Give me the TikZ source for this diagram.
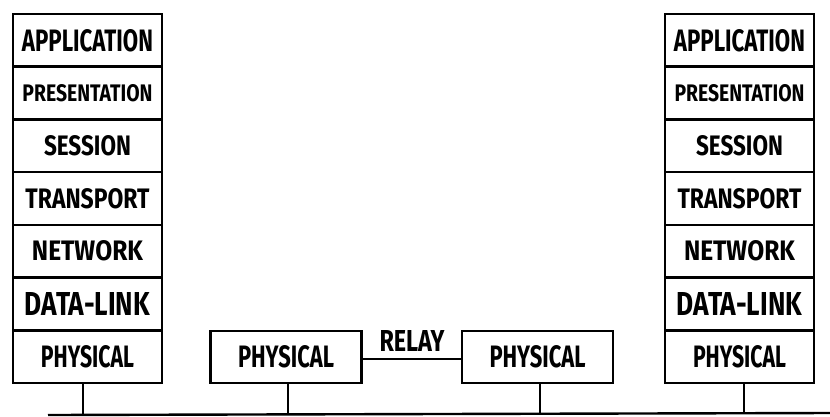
\documentclass[tikz,border=0pt]{standalone}
\usepackage{fontspec}
\setmainfont{Fira Sans}
\usepackage{graphicx}
\newcommand{\hw}[3]{\resizebox{#1pt}{#2pt}{\bfseries #3}}
\begin{document}
\begin{tikzpicture}[x=1pt,y=-1pt,
  layer/.style={draw, line width=2.6pt, minimum width=149pt, minimum height=52.7pt,
    inner sep=0pt, outer sep=0pt},
  relaybox/.style={draw, line width=2.6pt, minimum width=151pt, minimum height=52pt,
    inner sep=0pt, outer sep=0pt},
  wire/.style={line width=1.8pt},
  bus/.style={line width=2.4pt}]
\useasboundingbox (0,0) rectangle (830,416);
% left stack
\node[layer] (la) at (87.5,40.35)  {\hw{131}{22}{APPLICATION}};
\node[layer] (lp) at (87.5,93.05)  {\hw{130}{17}{PRESENTATION}};
\node[layer] (ls) at (87.5,145.75) {\hw{87}{20}{SESSION}};
\node[layer] (lt) at (87.5,198.45) {\hw{124}{20}{TRANSPORT}};
\node[layer] (ln) at (87.5,251.15) {\hw{111}{20}{NETWORK}};
\node[layer] (ld) at (87.5,303.85) {\hw{125}{23}{DATA-LINK}};
\node[layer] (lph) at (87.5,356.55) {\hw{93}{22}{PHYSICAL}};
% right stack
\node[layer] (ra) at (739.5,40.35)  {\hw{131}{22}{APPLICATION}};
\node[layer] (rp) at (739.5,93.05)  {\hw{130}{17}{PRESENTATION}};
\node[layer] (rs) at (739.5,145.75) {\hw{87}{20}{SESSION}};
\node[layer] (rt) at (739.5,198.45) {\hw{124}{20}{TRANSPORT}};
\node[layer] (rn) at (739.5,251.15) {\hw{111}{20}{NETWORK}};
\node[layer] (rd) at (739.5,303.85) {\hw{125}{23}{DATA-LINK}};
\node[layer] (rph) at (739.5,356.55) {\hw{93}{22}{PHYSICAL}};
% relay boxes
\node[relaybox] (m1) at (286,357) {\hw{96}{22}{PHYSICAL}};
\node[relaybox] (m2) at (537.5,357) {\hw{96}{22}{PHYSICAL}};
\draw[wire] (m1.east) ++(0,2) coordinate (r1) -- (r1 -| m2.west);
\node (relay) at (412,341) {\hw{65}{21}{RELAY}};
% bus
\coordinate (b0) at (48,415);
\coordinate (b1) at (830,413);
\draw[bus] (b0) -- (b1);
\coordinate (t1) at (83,414.5);
\coordinate (t2) at (288,414.5);
\coordinate (t3) at (540,414);
\coordinate (t4) at (744,413.5);
\draw[wire] (lph.south -| t1) -- (t1);
\draw[wire] (m1.south -| t2) -- (t2);
\draw[wire] (m2.south -| t3) -- (t3);
\draw[wire] (rph.south -| t4) -- (t4);
\end{tikzpicture}
\end{document}
